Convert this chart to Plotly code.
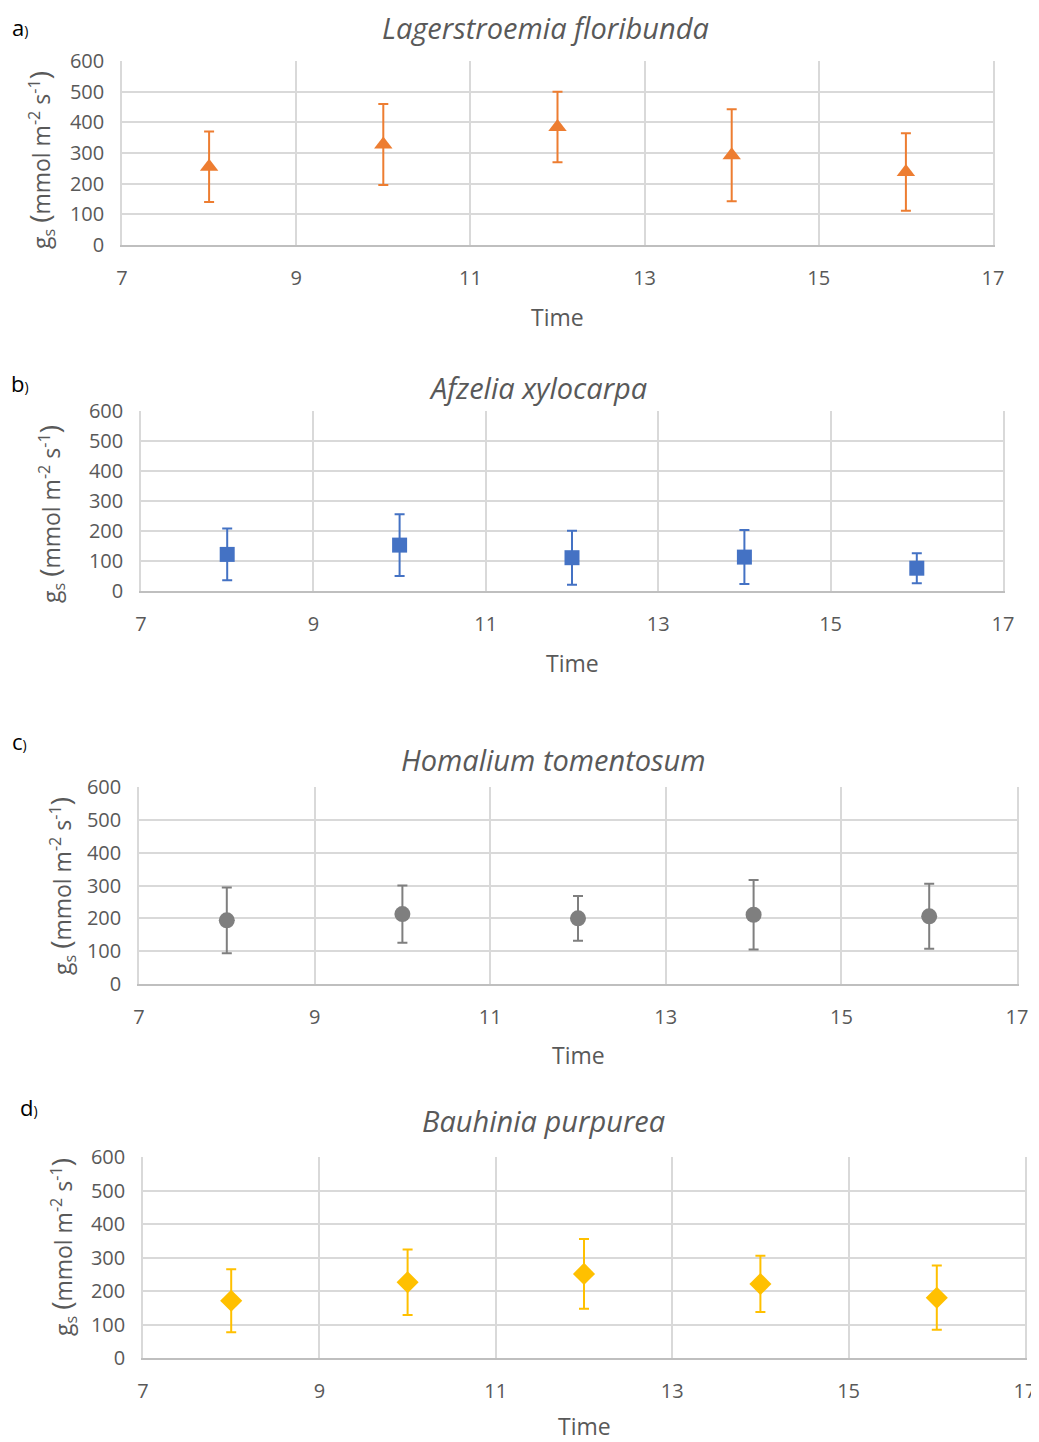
import plotly.graph_objects as go

# ---- data ----
times = [8, 10, 12, 14, 16]
titles = ["Lagerstroemia floribunda", "Afzelia xylocarpa", "Homalium tomentosum", "Bauhinia purpurea"]
panel_labels = ["a", "b", "c", "d"]
gs_a = [255, 328, 385, 293, 238]
err_a = [115, 132, 115, 150, 126]
gs_b = [122, 153, 111, 113, 76]
err_b = [86, 103, 90, 90, 50]
gs_c = [194, 213, 200, 211, 206]
err_c = [100, 87, 68, 106, 99]
gs_d = [171, 226, 251, 221, 180]
err_d = [94, 98, 104, 84, 96]
x_ticks = [7, 9, 11, 13, 15, 17]
y_ticks = [0, 100, 200, 300, 400, 500, 600]

# page body has an 8px margin: the figure starts at (8, 8)
OFF = 8
W, H = 1039 - OFF, 1442 - OFF


def fx(px):
    return (px - OFF) / W


def fy(py):
    return 1 - (py - OFF) / H


# plot-area boxes in page pixels: (left, right, top, bottom)
boxes = [(122, 993, 61, 245), (141, 1003, 411, 591), (139, 1017, 787, 984), (143, 1025, 1157, 1358)]
colors = ["#ED7D31", "#4472C4", "#7F7F7F", "#FFC000"]
symbols = ["triangle-up", "square", "circle", "diamond"]
msizes = [16, 15, 16, 17]
title_pos = [(545, 27), (538, 387), (553, 759), (543, 1120)]
time_pos = [(557, 317), (572, 663), (578, 1055), (584, 1426)]
ytitle_pos = [(40, 160), (50, 514), (61, 886), (62, 1247)]
lab_pos = [(20, 27), (20, 383), (19, 741), (29, 1107)]
fnt = "Open Sans, Lato, sans-serif"

series = [(gs_a, err_a), (gs_b, err_b), (gs_c, err_c), (gs_d, err_d)]

fig = go.Figure()
layout = dict(width=W, height=H, margin=dict(l=0, r=0, t=0, b=0, pad=0, autoexpand=False),
              paper_bgcolor="white", plot_bgcolor="white", showlegend=False)
annotations = []
grey = "#595959"

for i in range(4):
    l, r, t, b = boxes[i]
    sfx = "" if i == 0 else str(i + 1)
    vals, errs = series[i]
    fig.add_trace(go.Scatter(
        x=times, y=vals, mode="markers",
        marker=dict(symbol=symbols[i], size=msizes[i], color=colors[i]),
        error_y=dict(type="data", array=errs, visible=True, color=colors[i], thickness=2, width=5),
        xaxis="x" + sfx, yaxis="y" + sfx))
    layout["xaxis" + sfx] = dict(
        domain=[fx(l), fx(r)], anchor="y" + sfx, range=[7, 17], automargin=False,
        tickvals=x_ticks, ticktext=[str(v) for v in x_ticks], ticklabeloverflow="allow",
        showgrid=True, gridcolor="#d9d9d9", gridwidth=1.5,
        showline=True, linecolor="#bfbfbf", linewidth=2, mirror=False,
        zeroline=False, ticks="", ticklabelstandoff=14,
        tickfont=dict(family=fnt, size=20, color=grey))
    layout["yaxis" + sfx] = dict(
        domain=[fy(b), fy(t)], anchor="x" + sfx, range=[0, 600], automargin=False,
        tickvals=y_ticks, showgrid=True, gridcolor="#d9d9d9", gridwidth=1.5,
        showline=True, linecolor="#d9d9d9", linewidth=1.5, mirror=True,
        zeroline=False, ticks="", ticklabelstandoff=12,
        tickfont=dict(family=fnt, size=20, color=grey))
    tx, ty = title_pos[i]
    annotations.append(dict(text="<i>" + titles[i] + "</i>", x=fx(tx), y=fy(ty),
                            xref="paper", yref="paper", showarrow=False,
                            xanchor="center", yanchor="middle",
                            font=dict(family=fnt, size=29, color=grey)))
    px, py = time_pos[i]
    annotations.append(dict(text="Time", x=fx(px), y=fy(py), xref="paper", yref="paper",
                            showarrow=False, xanchor="center", yanchor="middle",
                            font=dict(family=fnt, size=23, color=grey)))
    yx, yy = ytitle_pos[i]
    annotations.append(dict(text="g<sub>s</sub> <span style='font-size:28px'>(</span>mmol m<sup>-2</sup> s<sup>-1</sup><span style='font-size:28px'>)</span>",
                            x=fx(yx), y=fy(yy), xref="paper", yref="paper",
                            showarrow=False, textangle=-90, xanchor="center", yanchor="middle",
                            font=dict(family=fnt, size=23, color=grey)))
    lx, ly = lab_pos[i]
    annotations.append(dict(text=panel_labels[i] + "<span style='font-size:14px'>)</span>",
                            x=fx(lx), y=fy(ly), xref="paper", yref="paper",
                            showarrow=False, xanchor="center", yanchor="middle",
                            font=dict(family=fnt, size=22, color="#000000")))

layout["annotations"] = annotations
fig.update_layout(**layout)
fig.write_html("out.html", post_script="document.documentElement.style.overflow='hidden';")
